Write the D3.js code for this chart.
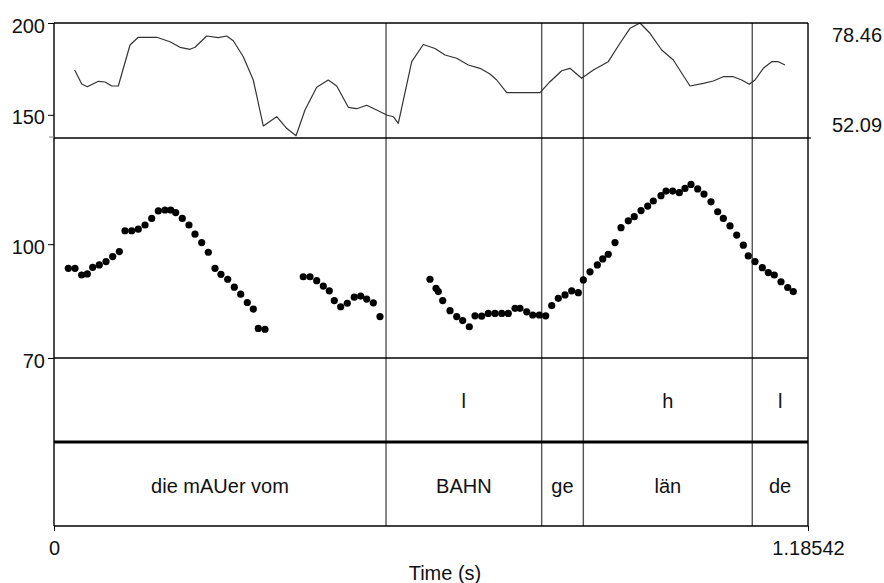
<!DOCTYPE html>
<html>
<head>
<meta charset="utf-8">
<script src="https://cdn.jsdelivr.net/npm/d3@7"></script>
<style>
  body { margin: 0; background: #fff; }
  svg { display: block; font-family: "Liberation Sans", Arial, sans-serif; }
</style>
</head>
<body>
<svg id="chart" width="884" height="583"></svg>
<script>
// time range of the sound (s)
const timeDomain = [0, 1.18542];

// intensity contour (dB)
const intensityTime = [0.0325, 0.0436, 0.0524, 0.0697, 0.0802, 0.0907, 0.1011, 0.1195, 0.1325, 0.1615,
  0.1824, 0.1981, 0.2138, 0.2217, 0.2401, 0.2583, 0.2715, 0.2819, 0.2976, 0.3133,
  0.3291, 0.3501, 0.3658, 0.3805, 0.3946, 0.4130, 0.4312, 0.4445, 0.4627, 0.4759,
  0.4916, 0.5073, 0.5231, 0.5334, 0.5413, 0.5624, 0.5806, 0.5990, 0.6147, 0.6331,
  0.6513, 0.6697, 0.6855, 0.6960, 0.7117, 0.7641, 0.7798, 0.7982, 0.8112, 0.8296,
  0.8479, 0.8714, 0.8898, 0.9056, 0.9213, 0.9370, 0.9554, 0.9737, 0.9999, 1.0208,
  1.0365, 1.0522, 1.0680, 1.0812, 1.0931, 1.1021, 1.1151, 1.1283, 1.1387, 1.1493];
const intensityDb = [67.68, 64.47, 63.85, 65.09, 64.93, 64.01, 64.01, 73.41, 75.18, 75.18,
  74.17, 72.89, 72.43, 72.89, 75.48, 75.09, 75.48, 74.40, 70.73, 65.39,
  54.84, 56.97, 54.31, 52.62, 58.51, 63.72, 65.39, 64.01, 59.13, 58.81,
  59.59, 58.51, 57.36, 56.97, 55.46, 69.59, 73.53, 72.61, 71.12, 70.37,
  68.83, 68.07, 66.77, 65.39, 62.48, 62.48, 65.00, 67.52, 68.07, 65.78,
  67.68, 69.59, 73.81, 77.24, 78.46, 76.10, 72.27, 69.98, 64.01, 64.63,
  65.16, 66.15, 66.15, 65.39, 64.40, 65.39, 68.07, 69.59, 69.59, 68.83];
const intensityRange = [52.09, 78.46];

// pitch track (Hz)
const pitchTime = [0.0225, 0.0330, 0.0435, 0.0524, 0.0608, 0.0712, 0.0818, 0.0923, 0.1027, 0.1116,
  0.1222, 0.1325, 0.1431, 0.1536, 0.1640, 0.1745, 0.1835, 0.1913, 0.2017, 0.2122,
  0.2217, 0.2322, 0.2426, 0.2531, 0.2625, 0.2731, 0.2835, 0.2935, 0.3039, 0.3133,
  0.3212, 0.3317,
  0.3919, 0.4025, 0.4130, 0.4234, 0.4328, 0.4407, 0.4507, 0.4611, 0.4721, 0.4822,
  0.4916, 0.5020, 0.5125,
  0.5911, 0.6006, 0.6042, 0.6111, 0.6226, 0.6331, 0.6425, 0.6529, 0.6619, 0.6724,
  0.6828, 0.6933, 0.7039, 0.7142, 0.7248, 0.7326, 0.7432, 0.7526, 0.7630, 0.7730,
  0.7825, 0.7928, 0.8034, 0.8139, 0.8243, 0.8322, 0.8427, 0.8542, 0.8627, 0.8714,
  0.8820, 0.8914, 0.9029, 0.9123, 0.9229, 0.9334, 0.9422, 0.9543, 0.9622, 0.9727,
  0.9831, 0.9920, 1.0015, 1.0120, 1.0219, 1.0329, 1.0434, 1.0523, 1.0628, 1.0733,
  1.0837, 1.0915, 1.1021, 1.1136, 1.1230, 1.1324, 1.1430, 1.1535, 1.1623];
const pitchHz = [92.7, 92.7, 90.8, 91.1, 93.0, 93.7, 94.7, 96.2, 97.7, 104.3,
  104.3, 104.8, 106.2, 108.4, 111.0, 111.3, 111.3, 110.4, 108.4, 106.2,
  103.2, 100.5, 97.5, 92.7, 91.0, 89.6, 87.4, 85.5, 83.3, 81.6,
  76.8, 76.6,
  90.3, 90.3, 89.2, 87.7, 86.4, 83.8, 82.2, 83.1, 84.7, 85.0,
  84.2, 83.2, 79.7,
  89.6, 87.1, 86.2, 83.8, 81.2, 79.7, 78.7, 77.2, 79.9, 79.8,
  80.5, 80.5, 80.5, 80.5, 81.8, 81.8, 80.9, 80.1, 80.1, 79.9,
  82.5, 84.4, 85.3, 86.4, 85.9, 89.4, 91.7, 93.7, 95.5, 96.9,
  100.5, 105.3, 107.6, 109.0, 111.1, 112.7, 114.5, 116.4, 118.1, 118.1,
  117.5, 119.1, 120.6, 118.9, 117.0, 114.2, 110.7, 108.4, 105.9, 102.9,
  99.7, 96.4, 94.7, 92.9, 91.5, 90.8, 88.9, 87.3, 86.2];
const pitchRange = [70, 200];
const pitchTicks = [70, 100, 150, 200];

// annotation tiers
const tierEdges = [0, 0.5220, 0.7667, 0.8322, 1.0978, 1.18542];
const toneLabels = ["", "l", "", "h", "l"];
const wordLabels = ["die mAUer vom", "BAHN", "ge", "län", "de"];

const svg = d3.select("#chart");
const left = 54, right = 808;
const yTop = 23, intBottom = 138, pitchBottom = 358, toneBottom = 442, wordBottom = 526;

const x = d3.scaleLinear().domain(timeDomain).range([left, right]);
const yPitch = d3.scaleLog().domain(pitchRange).range([pitchBottom, yTop]);
const yInt = d3.scaleLinear().domain(intensityRange).range([intBottom, yTop]);

// interval boundaries through all panels
svg.append("g")
  .selectAll("line")
  .data(tierEdges.slice(1, -1))
  .join("line")
  .attr("x1", d => x(d)).attr("x2", d => x(d))
  .attr("y1", yTop).attr("y2", wordBottom)
  .attr("stroke", "#555").attr("stroke-width", 1.4);

// intensity contour
const intensity = intensityTime.map((t, i) => [t, intensityDb[i]]);
svg.append("path")
  .datum(intensity)
  .attr("fill", "none")
  .attr("stroke", "#333")
  .attr("stroke-width", 1.2)
  .attr("stroke-linejoin", "round")
  .attr("d", d3.line().x(d => x(d[0])).y(d => yInt(d[1])));

// pitch dots
const pitch = pitchTime.map((t, i) => [t, pitchHz[i]]);
svg.append("g")
  .selectAll("circle")
  .data(pitch)
  .join("circle")
  .attr("cx", d => x(d[0]))
  .attr("cy", d => yPitch(d[1]))
  .attr("r", 3.6)
  .attr("fill", "#000");

// frame and panel separators
const frame = svg.append("g").attr("stroke", "#000").attr("fill", "none");
[yTop, intBottom, pitchBottom, wordBottom].forEach(yy => {
  frame.append("line").attr("x1", left).attr("x2", right).attr("y1", yy).attr("y2", yy).attr("stroke-width", 1.4);
});
frame.append("line").attr("x1", left).attr("x2", right).attr("y1", toneBottom).attr("y2", toneBottom).attr("stroke-width", 3);
frame.append("line").attr("x1", left).attr("x2", left).attr("y1", yTop).attr("y2", wordBottom).attr("stroke-width", 1.4);
frame.append("line").attr("x1", right).attr("x2", right).attr("y1", yTop).attr("y2", wordBottom).attr("stroke-width", 1.4);
// small marks at the intensity panel bottom
frame.append("line").attr("x1", left - 5).attr("x2", left).attr("y1", intBottom - 1).attr("y2", intBottom - 1).attr("stroke-width", 1).attr("stroke", "#888");
frame.append("line").attr("x1", right).attr("x2", right + 3).attr("y1", intBottom).attr("y2", intBottom).attr("stroke-width", 1.2);

// left pitch axis
const axisL = svg.append("g")
  .attr("transform", `translate(${left},0)`)
  .call(d3.axisLeft(yPitch).tickValues(pitchTicks).tickFormat(d3.format("d")).tickSize(6).tickPadding(3));
axisL.select(".domain").remove();
axisL.selectAll("text").attr("font-size", 20).attr("fill", "#111").attr("dy", "0.45em");
axisL.selectAll("line").attr("stroke", "#000");

// right intensity labels
svg.append("g")
  .selectAll("text")
  .data(intensityRange)
  .join("text")
  .attr("x", 832)
  .attr("y", d => d === intensityRange[1] ? yInt(d) + 19 : yInt(d) - 6)
  .attr("font-size", 20)
  .attr("fill", "#111")
  .text(d => d.toFixed(2));

// tier labels
const mids = tierEdges.slice(0, -1).map((e, i) => (e + tierEdges[i + 1]) / 2);
svg.append("g")
  .selectAll("text")
  .data(toneLabels)
  .join("text")
  .attr("x", (d, i) => x(mids[i]))
  .attr("y", 408)
  .attr("text-anchor", "middle")
  .attr("font-size", 20)
  .attr("fill", "#111")
  .text(d => d);
svg.append("g")
  .selectAll("text")
  .data(wordLabels)
  .join("text")
  .attr("x", (d, i) => x(mids[i]))
  .attr("y", 493)
  .attr("text-anchor", "middle")
  .attr("font-size", 20)
  .attr("fill", "#111")
  .text(d => d);

// time axis
const axisB = svg.append("g")
  .attr("transform", `translate(0,${wordBottom})`)
  .call(d3.axisBottom(x).tickValues(timeDomain).tickFormat(d => d === 0 ? "0" : "1.18542").tickSize(5).tickPadding(10));
axisB.select(".domain").remove();
axisB.selectAll("text").attr("font-size", 20).attr("fill", "#111");
axisB.selectAll("line").attr("stroke", "#000");

svg.append("text")
  .attr("x", (left + right) / 2 + 14)
  .attr("y", 580)
  .attr("text-anchor", "middle")
  .attr("font-size", 20)
  .attr("fill", "#111")
  .text("Time (s)");
</script>
</body>
</html>
